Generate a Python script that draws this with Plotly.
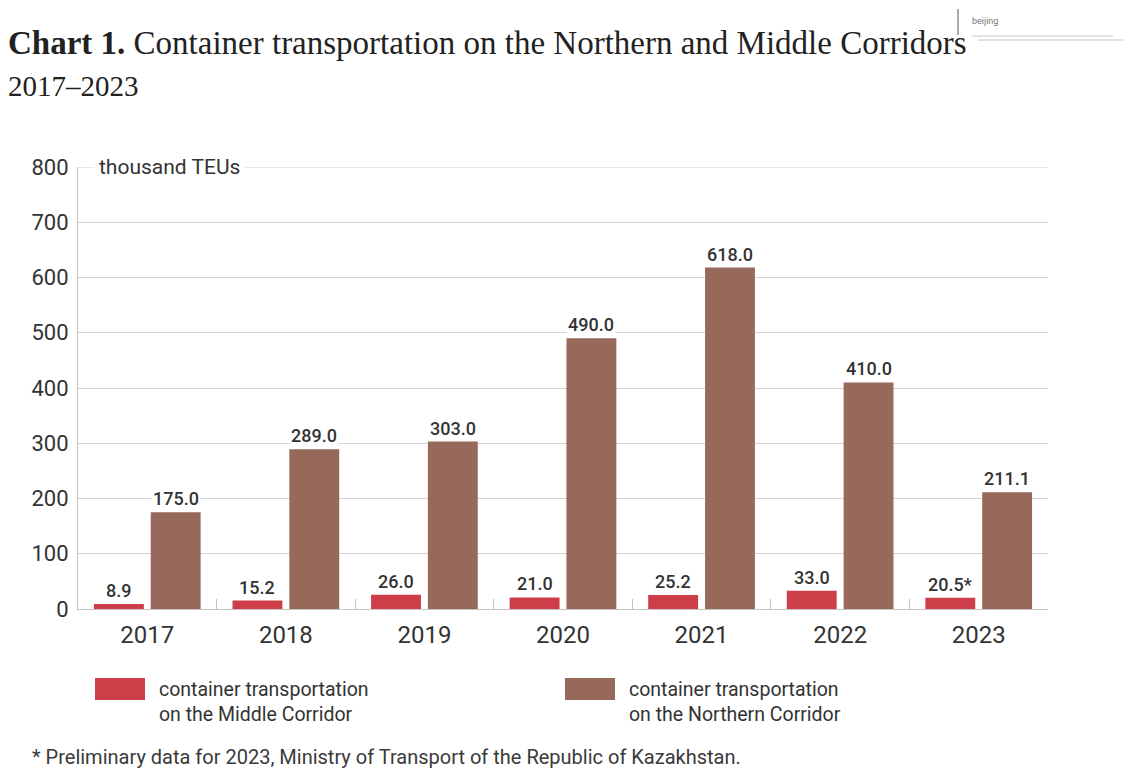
import plotly.graph_objects as go

years = ["2017", "2018", "2019", "2020", "2021", "2022", "2023"]
middle = [8.9, 15.2, 26.0, 21.0, 25.2, 33.0, 20.5]
northern = [175.0, 289.0, 303.0, 490.0, 618.0, 410.0, 211.1]
middle_labels = ["8.9", "15.2", "26.0", "21.0", "25.2", "33.0", "20.5*"]
northern_labels = ["175.0", "289.0", "303.0", "490.0", "618.0", "410.0", "211.1"]
yticks = [0, 100, 200, 300, 400, 500, 600, 700, 800]

RED = "#cd3e48"
BROWN = "#97695b"
TXT = "#333333"
GRID = "#d2d2d2"
AXIS = "#c4c4c4"

OFF = 8  # browser body margin
W, H = 1131 - OFF, 771 - OFF
# plot area in window pixels: x 78..1048, y 167..609
L = 78 - OFF
R = 1131 - 1048
T = 167 - OFF
B = 771 - 609
pw, ph = W - L - R, H - T - B

def px(x):  # window pixel -> paper
    return (x - OFF - L) / pw

def py(y):
    return (H - B - (y - OFF)) / ph

fig = go.Figure()
fig.add_trace(go.Bar(x=years, y=middle, name="container transportation on the Middle Corridor",
                     marker=dict(color=RED, line=dict(width=0)), width=0.36, offset=-0.385,
                     showlegend=False, hoverinfo="x+y"))
fig.add_trace(go.Bar(x=years, y=northern, name="container transportation on the Northern Corridor",
                     marker=dict(color=BROWN, line=dict(width=0)), width=0.36, offset=0.025,
                     showlegend=False, hoverinfo="x+y"))

ann = []
cat_px = pw / len(years)
lab_font = dict(family="Roboto", size=18, color=TXT, weight=500)
for i in range(len(years)):
    ann.append(dict(x=i, y=middle[i], xref="x", yref="y", text=middle_labels[i],
                    xshift=-0.205 * cat_px, yshift=1, yanchor="bottom", showarrow=False,
                    bgcolor="white", borderpad=1, font=lab_font))
    ann.append(dict(x=i, y=northern[i], xref="x", yref="y", text=northern_labels[i],
                    xshift=0.205 * cat_px, yshift=1, yanchor="bottom", showarrow=False,
                    bgcolor="white", borderpad=1, font=lab_font))

# unit label interrupting top gridline
ann.append(dict(x=px(94), y=800, xref="paper", yref="y", text="thousand TEUs",
                xanchor="left", yanchor="middle", showarrow=False, bgcolor="white", borderpad=4,
                font=dict(family="Roboto", size=21, color=TXT)))

# title
ann.append(dict(x=px(6), y=py(63), xref="paper", yref="paper",
                text="<b>Chart 1.</b> Container transportation on the Northern and Middle Corridors",
                xanchor="left", yanchor="bottom", showarrow=False,
                font=dict(family="Liberation Serif", size=33, color="#222222")))
ann.append(dict(x=px(6), y=py(104), xref="paper", yref="paper", text="2017–2023",
                xanchor="left", yanchor="bottom", showarrow=False,
                font=dict(family="Liberation Serif", size=29, color="#222222")))

# legend texts
leg_font = dict(family="Roboto", size=19.5, color=TXT)
ann.append(dict(x=px(157), y=py(676), xref="paper", yref="paper",
                text="container transportation<br>on the Middle Corridor",
                xanchor="left", yanchor="top", align="left", showarrow=False, font=leg_font))
ann.append(dict(x=px(627), y=py(676), xref="paper", yref="paper",
                text="container transportation<br>on the Northern Corridor",
                xanchor="left", yanchor="top", align="left", showarrow=False, font=leg_font))

# footnote
ann.append(dict(x=px(30), y=py(771), xref="paper", yref="paper",
                text="* Preliminary data for 2023, Ministry of Transport of the Republic of Kazakhstan.",
                xanchor="left", yanchor="bottom", showarrow=False,
                font=dict(family="Roboto", size=20, color="#3a3a3a")))

# small overlay box top-right
ann.append(dict(x=px(970), y=py(21), xref="paper", yref="paper", text="beijing",
                xanchor="left", yanchor="middle", showarrow=False,
                font=dict(family="Roboto", size=9, color="#777777")))

shapes = [
    dict(type="rect", xref="paper", yref="paper", x0=px(95), x1=px(145), y0=py(678), y1=py(700),
         fillcolor=RED, line=dict(width=0)),
    dict(type="rect", xref="paper", yref="paper", x0=px(565), x1=px(615), y0=py(678), y1=py(700),
         fillcolor=BROWN, line=dict(width=0)),
    dict(type="line", xref="paper", yref="paper", x0=px(958), x1=px(958), y0=py(9), y1=py(35),
         line=dict(color="#aaaaaa", width=2)),
    dict(type="line", xref="paper", yref="paper", x0=px(972), x1=px(1113), y0=py(36), y1=py(36),
         line=dict(color="#c8c8c8", width=1)),
    dict(type="line", xref="paper", yref="paper", x0=px(978), x1=px(1131), y0=py(40), y1=py(40),
         line=dict(color="#e2e2e2", width=2)),
    # top gridline (at the plot edge)
    dict(type="line", xref="paper", yref="y", x0=0, x1=1, y0=800, y1=800,
         line=dict(color=GRID, width=1), layer="below"),
]

fig.update_layout(
    width=W, height=H,
    margin=dict(l=L, r=R, t=T, b=B, autoexpand=False),
    paper_bgcolor="white", plot_bgcolor="white",
    barmode="group",
    annotations=ann, shapes=shapes,
    xaxis=dict(type="category", range=[-0.5, 6.5], showgrid=False, showline=True,
               linecolor=AXIS, linewidth=1, ticks="inside", tickson="boundaries",
               ticklen=10, tickcolor=AXIS, ticklabelstandoff=4,
               tickfont=dict(family="Roboto", size=24, color=TXT), fixedrange=True),
    yaxis=dict(range=[0, 800], tickvals=yticks, showgrid=True, gridcolor=GRID, gridwidth=1,
               showline=True, linecolor=AXIS, linewidth=1, zeroline=False,
               ticks="", ticklabelstandoff=4,
               tickfont=dict(family="Roboto", size=22, color=TXT), fixedrange=True),
)

fig.write_html("out.html")
